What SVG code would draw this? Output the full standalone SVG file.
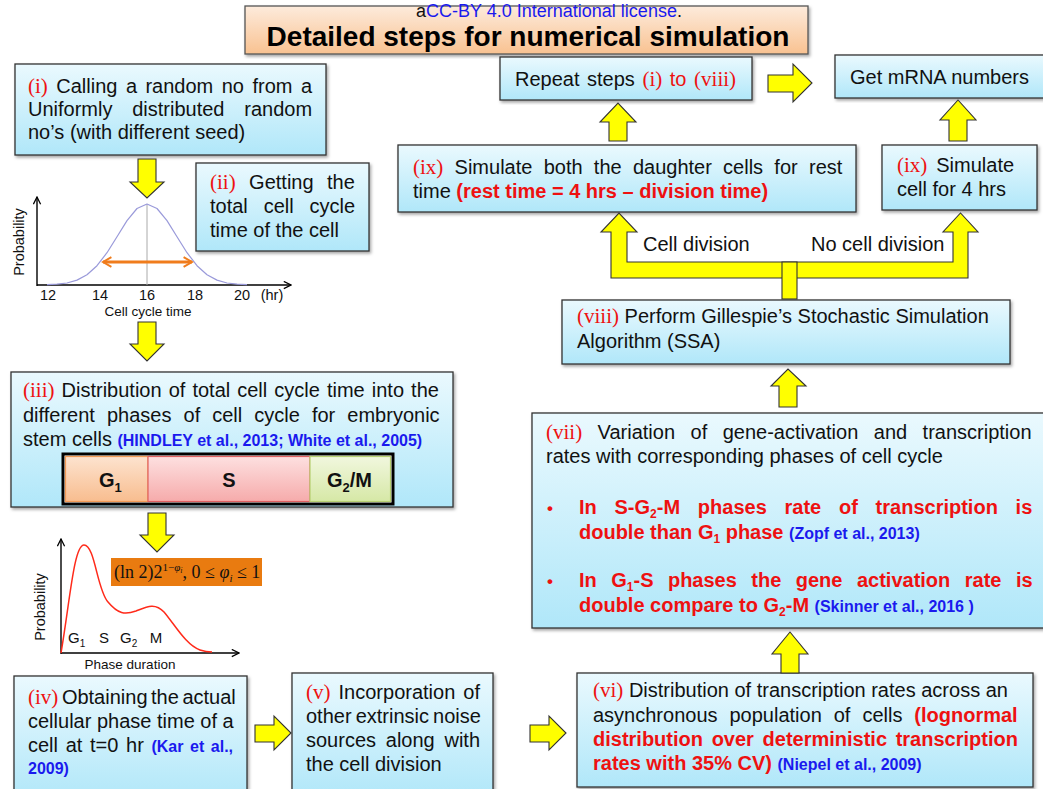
<svg xmlns="http://www.w3.org/2000/svg" width="1043" height="789" viewBox="0 0 1043 789">
<defs>
<linearGradient id="gBox" x1="0" y1="0" x2="0" y2="1"><stop offset="0" stop-color="#eaf9fe"/><stop offset="1" stop-color="#b0e7f9"/></linearGradient>
<linearGradient id="gTitle" x1="0" y1="0" x2="0" y2="1"><stop offset="0" stop-color="#fdebdc"/><stop offset="1" stop-color="#f9c291"/></linearGradient>
<linearGradient id="gG1" x1="0" y1="0" x2="0" y2="1"><stop offset="0" stop-color="#fde3cf"/><stop offset="1" stop-color="#f8bd8f"/></linearGradient>
<linearGradient id="gS" x1="0" y1="0" x2="0" y2="1"><stop offset="0" stop-color="#fde0e0"/><stop offset="1" stop-color="#f6abab"/></linearGradient>
<linearGradient id="gG2" x1="0" y1="0" x2="0" y2="1"><stop offset="0" stop-color="#f1f7de"/><stop offset="1" stop-color="#d6e8a6"/></linearGradient>
<filter id="sh" x="-5%" y="-5%" width="110%" height="115%"><feDropShadow dx="1.5" dy="2" stdDeviation="1.5" flood-color="#000" flood-opacity="0.35"/></filter>
<marker id="ah" viewBox="0 0 10 10" refX="9" refY="5" markerWidth="9" markerHeight="9" markerUnits="userSpaceOnUse" orient="auto-start-reverse"><path d="M1,1 L9,5 L1,9" fill="none" stroke="#000" stroke-width="1.4"/></marker>
<marker id="oh" viewBox="0 0 10 10" refX="8" refY="5" markerWidth="12" markerHeight="12" markerUnits="userSpaceOnUse" orient="auto-start-reverse"><path d="M1,1 L8,5 L1,9" fill="none" stroke="#f07c1c" stroke-width="1.6"/></marker>
</defs>
<style>
.box{fill:url(#gBox);stroke:#333;stroke-width:1.3;filter:url(#sh)}
.t{font-family:"Liberation Sans",Arial,sans-serif;font-size:20px;fill:#111}
.lab{font-family:"Liberation Serif","Times New Roman",serif;fill:#ee1111;font-size:21px}
.rb{font-family:"Liberation Sans",Arial,sans-serif;font-weight:bold;fill:#ee1111}
.cite{font-family:"Liberation Sans",Arial,sans-serif;font-weight:bold;fill:#1a1aee;font-size:16px}
.ya{fill:#ffff00;stroke:#333;stroke-width:1.1;stroke-linejoin:miter}
.ax{fill:none;stroke:#000;stroke-width:1.4}
.sm{font-family:"Liberation Sans",Arial,sans-serif;fill:#111}
.ph{font-family:"Liberation Sans",Arial,sans-serif;font-weight:bold;font-size:20px;fill:#111}
.sub{font-size:12px}
</style>
<rect width="1043" height="789" fill="#fff"/>

<g id="title">
<rect x="245" y="6" width="563" height="48" fill="url(#gTitle)" stroke="#555" stroke-width="1.3" filter="url(#sh)"/>
<text x="549" y="17" text-anchor="middle" font-family="Liberation Sans,Arial,sans-serif" font-size="18" fill="#111">a<tspan fill="#1a1aee">CC-BY 4.0 International license</tspan>.</text>
<text x="528" y="46" text-anchor="middle" font-family="Liberation Sans,Arial,sans-serif" font-size="28" font-weight="bold" fill="#000">Detailed steps for numerical simulation</text>
</g>

<g id="step-i">
<rect class="box" x="15" y="64" width="311" height="91"/>
<text class="t" x="28" y="93" word-spacing="2.9"><tspan class="lab">(i)</tspan> Calling a random no from a</text>
<text class="t" x="28" y="116" word-spacing="14.2">Uniformly distributed random</text>
<text class="t" x="28" y="139">no’s (with different seed)</text>
</g>

<g id="step-ii">
<rect class="box" x="196" y="163" width="173" height="88"/>
<text class="t" x="210" y="189" word-spacing="7.9"><tspan class="lab">(ii)</tspan> Getting the</text>
<text class="t" x="210" y="213" word-spacing="10.3">total cell cycle</text>
<text class="t" x="210" y="237">time of the cell</text>
</g>

<g id="plot-cell-cycle">
<path class="ax" d="M37,286 V197" marker-end="url(#ah)"/>
<path class="ax" d="M37,285 H291" marker-end="url(#ah)"/>
<line x1="147" y1="204" x2="147" y2="285" stroke="#aaa" stroke-width="1"/>
<path d="M47,284.7 L57,284.2 L67,283 L77,280.1 L87,274.8 L97,265.7 L107,252.7 L117,236.7 L127,220.6 L137,208.5 L147,204 L157,208.5 L167,220.6 L177,236.7 L187,252.7 L197,265.7 L207,274.8 L217,280.1 L227,283 L237,284.2 L247,284.7" fill="none" stroke="#9a9ada" stroke-width="1.2" stroke-linejoin="round"/>
<line x1="103" y1="262" x2="192" y2="262" stroke="#f07c1c" stroke-width="3" marker-start="url(#oh)" marker-end="url(#oh)"/>
<g class="sm" font-size="14.5">
<text x="48" y="300" text-anchor="middle">12</text>
<text x="100" y="300" text-anchor="middle">14</text>
<text x="147" y="300" text-anchor="middle">16</text>
<text x="195" y="300" text-anchor="middle">18</text>
<text x="242" y="300" text-anchor="middle">20</text>
<text x="272" y="300" text-anchor="middle">(hr)</text>
</g>
<text class="sm" x="148" y="316" text-anchor="middle" font-size="13.5">Cell cycle time</text>
<text class="sm" font-size="14.5" text-anchor="middle" transform="translate(24,242) rotate(-90)">Probability</text>
</g>

<g id="step-iii">
<rect class="box" x="11" y="372" width="442" height="135"/>
<text class="t" x="23" y="397" word-spacing="1.5"><tspan class="lab">(iii)</tspan> Distribution of total cell cycle time into the</text>
<text class="t" x="23" y="422" word-spacing="6.5">different phases of cell cycle for embryonic</text>
<text class="t" x="23" y="446">stem cells <tspan class="cite">(HINDLEY et al., 2013; White et al., 2005)</tspan></text>
<rect x="63" y="454" width="330" height="50" fill="#fff" stroke="#000" stroke-width="3"/>
<rect x="65.5" y="456.5" width="82.5" height="45" fill="url(#gG1)" stroke="#f29a55" stroke-width="1.2"/>
<rect x="148" y="456.5" width="162" height="45" fill="url(#gS)" stroke="#e06060" stroke-width="1.2"/>
<rect x="310" y="456.5" width="80.5" height="45" fill="url(#gG2)" stroke="#b6cf70" stroke-width="1.2"/>
<text class="ph" x="99" y="487">G<tspan font-size="13" dy="5">1</tspan></text>
<text class="ph" x="229" y="487" text-anchor="middle">S</text>
<text class="ph" x="327" y="487">G<tspan font-size="13" dy="5">2</tspan><tspan dy="-5">/M</tspan></text>
</g>

<g id="plot-phase">
<path class="ax" d="M61,654 V539" marker-end="url(#ah)"/>
<path class="ax" d="M61,653 H239" marker-end="url(#ah)"/>
<path d="M61,653 C70,600 74,545 84,545 C95,545 97,590 108,602 C118,614 125,615 136,611 C146,607 155,602 164,612 C175,625 186,645 200,650 C206,652 210,652 212,652" fill="none" stroke="#ff2a1a" stroke-width="1.5"/>
<g class="sm" font-size="15">
<text x="68" y="643">G<tspan font-size="10" dy="4">1</tspan></text>
<text x="104" y="643" text-anchor="middle">S</text>
<text x="120" y="643">G<tspan font-size="10" dy="4">2</tspan></text>
<text x="156" y="643" text-anchor="middle">M</text>
</g>
<text class="sm" x="130" y="669" text-anchor="middle" font-size="13.5">Phase duration</text>
<text class="sm" font-size="14.5" text-anchor="middle" transform="translate(45,607) rotate(-90)">Probability</text>
<rect x="111" y="558" width="151" height="28" fill="#e97b10"/>
<text x="114" y="578" font-family="Liberation Serif,Times New Roman,serif" font-size="18" fill="#111">(ln 2)2<tspan dy="-7" font-size="11">1−</tspan><tspan font-size="11" font-style="italic">φ</tspan><tspan dy="2" font-size="8" font-style="italic">i</tspan><tspan dy="5">, 0 ≤ </tspan><tspan font-style="italic">φ</tspan><tspan dy="4" font-size="11" font-style="italic">i</tspan><tspan dy="-4"> ≤ 1</tspan></text>
</g>

<g id="step-iv">
<rect class="box" x="14" y="676" width="233" height="125"/>
<text class="t" x="28" y="704" word-spacing="-2"><tspan class="lab">(iv)</tspan> Obtaining the actual</text>
<text class="t" x="28" y="728">cellular phase time of a</text>
<text class="t" x="28" y="752" word-spacing="2.1">cell at t=0 hr <tspan class="cite">(Kar et al.,</tspan></text>
<text class="cite" x="28" y="774">2009)</text>
</g>

<g id="step-v">
<rect class="box" x="292" y="673" width="201" height="125"/>
<text class="t" x="306" y="699" word-spacing="2.5"><tspan class="lab">(v)</tspan> Incorporation of</text>
<text class="t" x="306" y="723" word-spacing="-1.5">other extrinsic noise</text>
<text class="t" x="306" y="747" word-spacing="4.2">sources along with</text>
<text class="t" x="306" y="771">the cell division</text>
</g>

<g id="step-vi">
<rect class="box" x="577" y="673" width="456" height="114"/>
<text class="t" x="593" y="697"><tspan class="lab">(vi)</tspan> Distribution of transcription rates across an</text>
<text class="t" x="593" y="722" word-spacing="6.4">asynchronous population of cells <tspan class="rb">(lognormal</tspan></text>
<text class="t rb" x="593" y="746" word-spacing="3.1">distribution over deterministic transcription</text>
<text class="t" x="593" y="770"><tspan class="rb">rates with 35% CV)</tspan> <tspan class="cite">(Niepel et al., 2009)</tspan></text>
</g>

<g id="step-vii">
<rect class="box" x="532" y="413" width="530" height="215"/>
<text class="t" x="546" y="439" word-spacing="9.9"><tspan class="lab">(vii)</tspan> Variation of gene-activation and transcription</text>
<text class="t" x="546" y="463">rates with corresponding phases of cell cycle</text>
<text class="rb" x="547" y="514" font-size="17">•</text>
<text class="t rb" x="579" y="514" word-spacing="12.2">In S-G<tspan class="sub" dy="4">2</tspan><tspan dy="-4">-M phases rate of transcription is</tspan></text>
<text class="t rb" x="579" y="539">double than G<tspan class="sub" dy="4">1</tspan><tspan dy="-4"> phase </tspan><tspan class="cite"> (Zopf et al., 2013)</tspan></text>
<text class="rb" x="547" y="587" font-size="17">•</text>
<text class="t rb" x="579" y="587" word-spacing="8.9">In G<tspan class="sub" dy="4">1</tspan><tspan dy="-4">-S phases the gene activation rate is</tspan></text>
<text class="t rb" x="579" y="612">double compare to G<tspan class="sub" dy="4">2</tspan><tspan dy="-4">-M </tspan><tspan class="cite">(Skinner et al., 2016 )</tspan></text>
</g>

<g id="step-viii">
<rect class="box" x="562" y="300" width="448" height="64"/>
<text class="t" x="577" y="323"><tspan class="lab">(viii)</tspan> Perform Gillespie’s Stochastic Simulation</text>
<text class="t" x="577" y="348">Algorithm (SSA)</text>
</g>

<g id="step-ix-division">
<rect class="box" x="398" y="145" width="458" height="67"/>
<text class="t" x="413" y="174" word-spacing="5.7"><tspan class="lab">(ix)</tspan> Simulate both the daughter cells for rest</text>
<text class="t" x="413" y="198">time <tspan class="rb">(rest time = 4 hrs – division time)</tspan></text>
</g>

<g id="step-ix-nodivision">
<rect class="box" x="882" y="145" width="155" height="65"/>
<text class="t" x="897" y="172" word-spacing="3.4"><tspan class="lab">(ix)</tspan>  Simulate</text>
<text class="t" x="897" y="196">cell for 4 hrs</text>
</g>

<g id="repeat">
<rect class="box" x="500" y="57" width="252" height="43"/>
<text class="t" x="515" y="86" word-spacing="2">Repeat steps <tspan class="lab">(i)</tspan>  <tspan fill="#ee1111">to</tspan> <tspan class="lab">(viii)</tspan></text>
</g>

<g id="mrna">
<rect class="box" x="835" y="55" width="215" height="43"/>
<text class="t" x="850" y="84">Get mRNA numbers</text>
</g>

<g id="connectors">
<path class="ya" d="M138,159 H156 V182 H164 L147,198 L130,182 H138 Z"/>
<path class="ya" d="M138,322 H156 V344 H164 L147,361 L130,344 H138 Z"/>
<path class="ya" d="M148,513 H166 V535 H174 L157,552 L140,535 H148 Z"/>
<path class="ya" d="M255,725 V742 H274 V750 L291,733 L274,716 V725 Z"/>
<path class="ya" d="M530,725 V742 H549 V750 L566,733 L549,716 V725 Z"/>
<path class="ya" d="M781,673 V654 H772 L790,632 L808,654 H799 V673 Z"/>
<path class="ya" d="M779,407 V386 H771 L788,369 L806,386 H797 V407 Z"/>
<path class="ya" d="M611,278 V232 H601 L619,213 L637,232 H627 V262 H953 V232 H943 L960.5,213 L978,232 H968 V278 Z"/>
<rect class="ya" x="782" y="262" width="15" height="37"/>
<path class="ya" d="M609,141 V122 H600 L618,103 L636,122 H627 V141 Z"/>
<path class="ya" d="M949,141 V120 H940 L958,100 L976,120 H967 V141 Z"/>
<path class="ya" d="M768,75 V92 H793 V102 L812,83 L793,64 V75 Z"/>
<text class="t" x="643" y="251">Cell division</text>
<text class="t" x="811" y="251">No cell division</text>
</g>
</svg>
